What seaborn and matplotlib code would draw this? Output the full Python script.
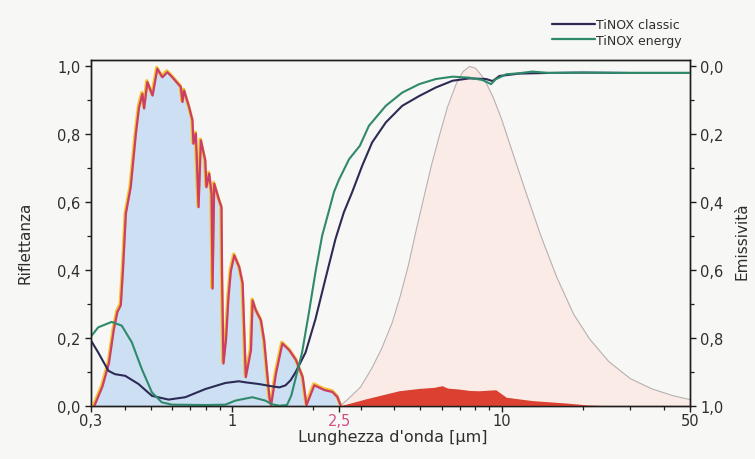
import matplotlib
matplotlib.use("Agg")
import matplotlib.pyplot as plt
import matplotlib.transforms as mtransforms
from matplotlib.ticker import FixedLocator, LogLocator, MultipleLocator, NullFormatter, FuncFormatter
from matplotlib.lines import Line2D
import pandas as pd
import seaborn as sns

# Normalised solar spectrum (AM 1.5), wavelength in µm
solar_wl = [0.306, 0.329, 0.348, 0.363, 0.374, 0.385, 0.392, 0.402, 0.419, 0.438,
            0.450, 0.463, 0.470, 0.483, 0.505, 0.526, 0.549, 0.573, 0.598, 0.643,
            0.652, 0.661, 0.690, 0.710, 0.716, 0.731, 0.748, 0.763, 0.792, 0.800,
            0.819, 0.836, 0.843, 0.855, 0.892, 0.910, 0.914, 0.925, 0.945, 0.966,
            0.985, 1.015, 1.059, 1.090, 1.120, 1.170, 1.187, 1.220, 1.275, 1.310,
            1.370, 1.390, 1.450, 1.530, 1.625, 1.720, 1.820, 1.880, 2.010, 2.190,
            2.350, 2.450, 2.530]
solar_val = [0.0, 0.06, 0.13, 0.23, 0.28, 0.30, 0.40, 0.57, 0.648, 0.806,
             0.884, 0.923, 0.880, 0.958, 0.918, 0.997, 0.972, 0.987, 0.972, 0.943,
             0.899, 0.933, 0.884, 0.845, 0.776, 0.806, 0.589, 0.786, 0.727, 0.648,
             0.688, 0.629, 0.349, 0.658, 0.609, 0.589, 0.40, 0.128, 0.196, 0.324,
             0.40, 0.447, 0.412, 0.364, 0.088, 0.167, 0.314, 0.285, 0.255, 0.196,
             0.029, 0.005, 0.10, 0.187, 0.167, 0.138, 0.088, 0.005, 0.064, 0.050,
             0.044, 0.029, 0.0]

# Normalised black-body spectrum at ~100 °C
bb_wl = [2.53, 2.70, 3.00, 3.30, 3.60, 3.93, 4.20, 4.50, 4.80, 5.10,
         5.50, 5.90, 6.30, 6.80, 7.20, 7.60, 8.00, 8.60, 9.30, 10.0,
         11.0, 12.3, 14.0, 16.0, 18.5, 21.2, 25.0, 30.0, 36.0, 43.0, 50.0]
bb_val = [0.0, 0.02, 0.055, 0.11, 0.17, 0.245, 0.32, 0.41, 0.51, 0.60,
          0.71, 0.80, 0.88, 0.95, 0.985, 1.0, 0.995, 0.965, 0.91, 0.845,
          0.745, 0.63, 0.50, 0.38, 0.27, 0.197, 0.13, 0.08, 0.05, 0.03, 0.018]

# Thermal emission of the absorber coating
emit_wl = [2.53, 3.13, 4.16, 4.95, 5.60, 6.02, 6.30, 6.94, 7.60, 8.25,
           9.00, 9.52, 10.0, 10.4, 13.0, 17.3, 21.0, 25.0]
emit_val = [0.0, 0.02, 0.044, 0.051, 0.054, 0.059, 0.052, 0.049, 0.045, 0.044,
            0.046, 0.047, 0.035, 0.025, 0.015, 0.008, 0.002, 0.0]

# Reflectance of TiNOX classic
classic_wl = [0.30, 0.319, 0.348, 0.368, 0.402, 0.45, 0.505, 0.582, 0.671, 0.796,
              0.945, 1.06, 1.12, 1.256, 1.41, 1.50, 1.58, 1.65, 1.72, 1.875,
              2.04, 2.22, 2.42, 2.60, 2.79, 3.04, 3.31, 3.72, 4.28, 4.95,
              5.70, 6.58, 7.59, 8.76, 9.27, 9.82, 11.6, 15.0, 20.0, 30.0, 50.0]
classic_val = [0.192, 0.157, 0.103, 0.093, 0.088, 0.064, 0.029, 0.018, 0.025, 0.049,
               0.067, 0.072, 0.069, 0.064, 0.057, 0.054, 0.060, 0.075, 0.098, 0.157,
               0.255, 0.373, 0.491, 0.570, 0.629, 0.707, 0.776, 0.835, 0.884, 0.913,
               0.938, 0.958, 0.965, 0.963, 0.957, 0.972, 0.979, 0.981, 0.982, 0.981, 0.981]

# Reflectance of TiNOX energy
energy_wl = [0.30, 0.319, 0.358, 0.39, 0.425, 0.463, 0.505, 0.549, 0.60, 0.80,
             0.945, 1.03, 1.19, 1.33, 1.41, 1.50, 1.60, 1.66, 1.72, 1.82,
             1.93, 2.04, 2.16, 2.29, 2.39, 2.49, 2.72, 2.98, 3.22, 3.72,
             4.28, 4.95, 5.70, 6.58, 7.59, 8.50, 9.14, 9.50, 10.4, 11.6,
             13.0, 15.0, 20.0, 30.0, 50.0]
energy_val = [0.204, 0.231, 0.247, 0.236, 0.187, 0.108, 0.039, 0.010, 0.003, 0.002,
              0.003, 0.015, 0.025, 0.015, 0.004, 0.0, 0.002, 0.030, 0.079, 0.157,
              0.275, 0.393, 0.501, 0.575, 0.630, 0.665, 0.727, 0.766, 0.825, 0.884,
              0.923, 0.948, 0.963, 0.970, 0.967, 0.960, 0.948, 0.962, 0.977, 0.980,
              0.985, 0.981, 0.982, 0.981, 0.981]

x_ticks = [0.3, 1, 2.5, 10, 50]
x_tick_labels = ["0,3", "1", "2,5", "10", "50"]
y_ticks = [0.0, 0.2, 0.4, 0.6, 0.8, 1.0]
series_names = ["TiNOX classic", "TiNOX energy"]

C_CLASSIC = "#2b2b55"
C_ENERGY = "#2f8a6c"
C_SOLAR_FILL = "#cddff3"
C_SOLAR_EDGE = "#f4c52c"
C_SOLAR_LINE = "#cc3d68"
C_BB_FILL = "#fbebe7"
C_BB_LINE = "#b8b0b0"
C_EMIT = "#db4030"
BG = "#f7f7f5"
TXT = "#2e2e2e"

sns.set_theme(style="ticks")
plt.rcParams["font.family"] = ["DejaVu Sans"]

fig = plt.figure(figsize=(7.55, 4.6), dpi=100, facecolor=BG)
ax = fig.add_axes([91 / 755, 1 - 406.7 / 460, 599 / 755, 346 / 460])
ax.set_facecolor(BG)
ax.set_xscale("log")

# solar spectrum
ax.fill_between(solar_wl, 0, solar_val, color=C_SOLAR_FILL, lw=0, zorder=1)
# black-body spectrum
ax.fill_between(bb_wl, 0, bb_val, color=C_BB_FILL, lw=0, zorder=1)
sns.lineplot(x=bb_wl, y=bb_val, ax=ax, color=C_BB_LINE, lw=0.8,
             estimator=None, sort=False, zorder=2)
# emission of the coating
ax.fill_between(emit_wl, 0, emit_val, color=C_EMIT, lw=0, zorder=3)

# solar outline: yellow edge with the red curve just inside it
sns.lineplot(x=solar_wl, y=solar_val, ax=ax, color=C_SOLAR_EDGE, lw=2.4,
             estimator=None, sort=False, zorder=3)
shift = mtransforms.offset_copy(ax.transData, fig=fig, x=0.6, y=-1.3, units="dots")
ax.plot(solar_wl, solar_val, color=C_SOLAR_LINE, lw=1.6, transform=shift, zorder=4)

# reflectance curves
refl = pd.concat([
    pd.DataFrame({"wl": classic_wl, "R": classic_val, "coating": series_names[0]}),
    pd.DataFrame({"wl": energy_wl, "R": energy_val, "coating": series_names[1]}),
])
sns.lineplot(data=refl, x="wl", y="R", hue="coating",
             palette={series_names[0]: C_CLASSIC, series_names[1]: C_ENERGY},
             lw=1.5, estimator=None, sort=False, legend=False, ax=ax, zorder=5)

ax.set_xlim(0.3, 50)
ax.set_ylim(0, 1.02)

comma = FuncFormatter(lambda v, p: f"{abs(v):.1f}".replace(".", ","))

ax.xaxis.set_major_locator(FixedLocator(x_ticks))
ax.set_xticklabels(x_tick_labels)
ax.xaxis.set_minor_locator(LogLocator(base=10, subs=[2, 3, 4, 5, 6, 7, 8, 9], numticks=20))
ax.xaxis.set_minor_formatter(NullFormatter())

ax.yaxis.set_major_locator(FixedLocator(y_ticks))
ax.yaxis.set_minor_locator(MultipleLocator(0.1))
ax.yaxis.set_major_formatter(comma)

ax2 = ax.twinx()
ax2.set_ylim(1.0, -0.02)
ax2.yaxis.set_major_locator(FixedLocator(y_ticks))
ax2.yaxis.set_minor_locator(MultipleLocator(0.1))
ax2.yaxis.set_major_formatter(comma)

for a in (ax, ax2):
    for s in a.spines.values():
        s.set_visible(True)
        s.set_color("#1e1e1e")
        s.set_linewidth(1.0)
    a.tick_params(which="major", direction="out", length=4.5, width=1.0,
                  colors="#1e1e1e", labelsize=10.5, labelcolor=TXT)
    a.tick_params(which="minor", direction="out", length=2.8, width=0.9,
                  colors="#1e1e1e")
ax.tick_params(axis="x", which="major", pad=1)
ax.tick_params(axis="y", which="major", pad=3)
ax2.tick_params(axis="y", which="major", pad=3)
for lbl in ax.get_xticklabels():
    if lbl.get_text() == "2,5":
        lbl.set_color("#d24f84")

ax.set_xlabel("Lunghezza d'onda [µm]", fontsize=11.5, color=TXT)
ax.xaxis.set_label_coords(0.504, -0.067)
ax.xaxis.label.set_va("top")
ax.set_ylabel("Riflettanza", fontsize=11, color=TXT)
ax.yaxis.set_label_coords(-0.097, 0.473)
ax2.set_ylabel("Emissività", fontsize=11, color=TXT)
ax2.yaxis.set_label_coords(1.075, 0.479)

handles = [Line2D([], [], color=C_CLASSIC, lw=1.6), Line2D([], [], color=C_ENERGY, lw=1.6)]
fig.legend(handles, series_names, loc="upper right",
           bbox_to_anchor=(682 / 755, 1 - 19 / 460), frameon=False,
           fontsize=9, handlelength=3.4, handletextpad=0.12,
           labelspacing=0.2, borderpad=0, borderaxespad=0,
           labelcolor=TXT)

fig.savefig("out.png", dpi=100, facecolor=BG)
